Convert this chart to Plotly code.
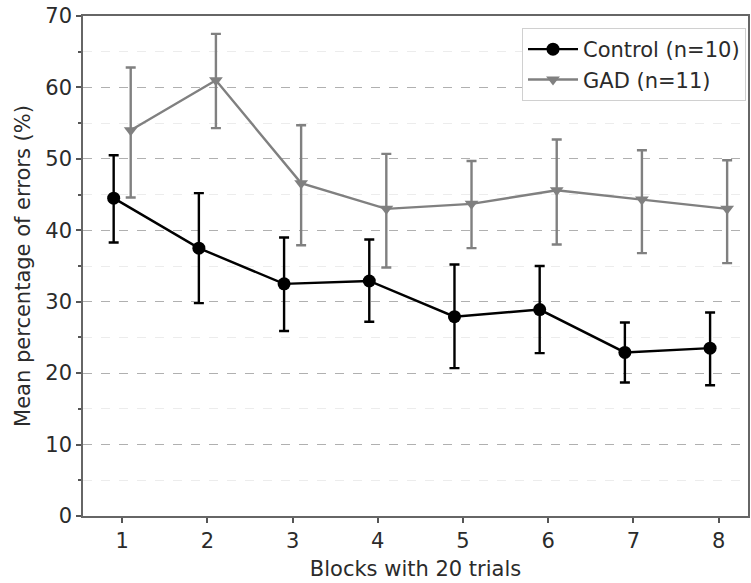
import plotly.graph_objects as go

blocks = [1, 2, 3, 4, 5, 6, 7, 8]
offset = 0.1

control_mean = [44.5, 37.5, 32.5, 32.9, 27.9, 28.9, 22.9, 23.5]
control_upper = [50.5, 45.2, 39.0, 38.7, 35.2, 35.0, 27.1, 28.5]
control_lower = [38.3, 29.8, 25.9, 27.2, 20.7, 22.8, 18.7, 18.3]

gad_mean = [54.0, 61.0, 46.6, 43.0, 43.7, 45.6, 44.3, 43.0]
gad_upper = [62.8, 67.5, 54.7, 50.7, 49.7, 52.7, 51.2, 49.8]
gad_lower = [44.6, 54.3, 37.9, 34.8, 37.5, 38.0, 36.8, 35.4]

x_ticks = [1, 2, 3, 4, 5, 6, 7, 8]
y_ticks = [0, 10, 20, 30, 40, 50, 60, 70]

FONT = "DejaVu Sans"
TXT = "#2b2b2b"
FS = 21

fig = go.Figure()

fig.add_trace(go.Scatter(
    x=[b - offset for b in blocks], y=control_mean,
    mode="lines+markers", name="Control (n=10)",
    line=dict(color="black", width=2.4),
    marker=dict(symbol="circle", size=13, color="black"),
    error_y=dict(type="data", symmetric=False,
                 array=[u - m for u, m in zip(control_upper, control_mean)],
                 arrayminus=[m - l for l, m in zip(control_lower, control_mean)],
                 color="black", thickness=2.4, width=5),
))

fig.add_trace(go.Scatter(
    x=[b + offset for b in blocks], y=gad_mean,
    mode="lines+markers", name="GAD (n=11)",
    line=dict(color="#808080", width=2.4),
    marker=dict(symbol="triangle-down", size=12, color="#808080"),
    error_y=dict(type="data", symmetric=False,
                 array=[u - m for u, m in zip(gad_upper, gad_mean)],
                 arrayminus=[m - l for l, m in zip(gad_lower, gad_mean)],
                 color="#808080", thickness=2.4, width=5),
))

fig.update_layout(
    width=751, height=583,
    margin=dict(l=83, r=3, t=16, b=67),
    plot_bgcolor="white", paper_bgcolor="white",
    font=dict(family=FONT, size=FS, color=TXT),
    legend=dict(x=0.997, y=0.976, xanchor="right", yanchor="top",
                bgcolor="white", bordercolor="#d0d0d0", borderwidth=1,
                itemwidth=50, tracegroupgap=0,
                font=dict(family=FONT, size=FS, color=TXT)),
    showlegend=True,
)

fig.update_xaxes(
    range=[0.54, 8.345], automargin=False,
    tickvals=x_ticks, ticktext=[str(t) for t in x_ticks],
    ticks="outside", ticklen=5, tickwidth=1.5, tickcolor="#555555",
    showline=True, linecolor="#666666", linewidth=1.5, mirror=True,
    showgrid=False, zeroline=False,
    title=dict(text="Blocks with 20 trials", font=dict(family=FONT, size=FS, color=TXT), standoff=9),
    tickfont=dict(family=FONT, size=FS, color=TXT),
)

fig.update_yaxes(
    range=[0, 70], automargin=False,
    tickvals=y_ticks, ticktext=[str(t) for t in y_ticks],
    ticks="outside", ticklen=5, tickwidth=1.5, tickcolor="#555555",
    showline=True, linecolor="#666666", linewidth=1.5, mirror=True,
    showgrid=True, gridcolor="#b0b0b0", gridwidth=1, griddash="dash",
    zeroline=False,
    minor=dict(dtick=5, tick0=0, showgrid=True, gridcolor="#ececec", gridwidth=1,
               ticks="outside", ticklen=3, tickcolor="#555555"),
    title=dict(text="Mean percentage of errors (%)", font=dict(family=FONT, size=FS, color=TXT), standoff=9),
    tickfont=dict(family=FONT, size=FS, color=TXT),
)

fig.write_html("out.html", config={"displayModeBar": False},
               post_script="document.body.style.margin='0';document.body.style.overflow='hidden';")
